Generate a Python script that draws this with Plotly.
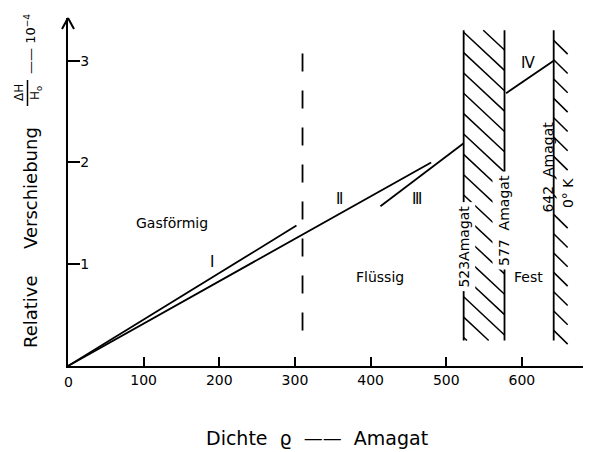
import plotly.graph_objects as go

# ---- data ----
rho_I = [0, 302]
shift_I = [0, 1.38]
rho_II = [0, 480]
shift_II = [0, 2.0]
rho_III = [413, 523]
shift_III = [1.57, 2.19]
rho_IV = [579, 642]
shift_IV = [2.68, 3.0]
phase_bounds = [523, 577, 642]
bound_lo, bound_hi = 0.25, 3.3
rho_crit = 310
crit_lo, crit_hi = 0.35, 3.2
x_ticks = [0, 100, 200, 300, 400, 500, 600]
y_ticks = [1, 2, 3]

# ---- geometry (page body has an 8px margin) ----
OFF = 8
W, H = 591 - OFF, 452 - OFF
ML, MR, MT, MB = 68 - OFF, 1, 18 - OFF, 86
PW, PH = W - ML - MR, H - MT - MB
XR = [0, 690]
YR = [0, 3.42]


def px(x_img):
    return (x_img - OFF - ML) / PW


def py(y_img):
    return (H - MB - (y_img - OFF)) / PH


BLACK = "black"
FONT = "DejaVu Sans"

fig = go.Figure()


def add_line(xs, ys, width=1.8, dash=None):
    fig.add_trace(go.Scatter(x=xs, y=ys, mode="lines",
                             line=dict(color=BLACK, width=width, dash=dash),
                             hoverinfo="skip", showlegend=False))


add_line(rho_I, shift_I)
add_line(rho_II, shift_II)
add_line(rho_III, shift_III)
add_line(rho_IV, shift_IV)
for b in phase_bounds:
    add_line([b, b], [bound_lo, bound_hi], width=1.8)
add_line([rho_crit, rho_crit], [crit_lo, crit_hi], width=1.8, dash="18px,19px")

# hatching between the 523 and 577 boundaries (decorative pattern)
x0h, x1h = phase_bounds[0], phase_bounds[1]
drop = 0.375
step = 0.2
slope = drop / (x1h - x0h)
hx, hy = [], []
y0 = 3.28 + step
while y0 > bound_lo:
    xa, ya = x0h, y0
    xb, yb = x1h, y0 - drop
    if ya > bound_hi:
        xa = x0h + (ya - bound_hi) / slope
        ya = bound_hi
    if yb < bound_lo:
        xb = x0h + (y0 - bound_lo) / slope
        yb = bound_lo
    if xb > xa:
        hx += [xa, xb, None]
        hy += [ya, yb, None]
    y0 -= step
fig.add_trace(go.Scatter(x=hx, y=hy, mode="lines", line=dict(color=BLACK, width=1.5),
                         hoverinfo="skip", showlegend=False))

# short hatch ticks on the right of the 642 boundary
tx, ty = [], []
yt = 3.2
while yt > 0.35:
    tx += [phase_bounds[2], phase_bounds[2] + 18.5, None]
    ty += [yt, yt - 0.135, None]
    yt -= 0.19
fig.add_trace(go.Scatter(x=tx, y=ty, mode="lines", line=dict(color=BLACK, width=1.5),
                         hoverinfo="skip", showlegend=False))


def label(x, y, text, size=14, angle=0, bg=None, family=FONT):
    fig.add_annotation(x=x, y=y, xref="x", yref="y", text=text, showarrow=False,
                       textangle=angle, font=dict(family=family, size=size, color=BLACK),
                       bgcolor=bg if bg else "rgba(0,0,0,0)", borderpad=3,
                       xanchor="center", yanchor="middle")


label(137, 1.41, "Gasförmig")
label(412, 0.87, "Flüssig")
label(609, 0.87, "Fest")
label(190, 1.02, "Ⅰ", size=15)
label(359, 1.64, "Ⅱ", size=15)
label(461, 1.64, "Ⅲ", size=15)
label(608, 2.98, "Ⅳ", size=15)
label(523, 1.17, "523Amagat", angle=-90, bg="white")
label(577, 1.43, "577  Amagat", angle=-90, bg="white")
label(634.5, 1.95, "642  Amagat", angle=-90)
label(661, 1.70, "0° K", angle=-90, bg="white")


def plabel(xp, yp, text, size, angle=0):
    fig.add_annotation(x=px(xp), y=py(yp), xref="paper", yref="paper", text=text,
                       showarrow=False, textangle=angle,
                       font=dict(family=FONT, size=size, color=BLACK),
                       xanchor="center", yanchor="middle")


# origin tick label (hidden by plotly next to the inside y labels)
fig.add_annotation(x=x_ticks[0], y=py(382), xref="x", yref="paper", text=str(x_ticks[0]),
                   showarrow=False, font=dict(family=FONT, size=14, color=BLACK),
                   xanchor="center", yanchor="middle")

# axis titles
plabel(317, 438, "Dichte  ϱ  ——  Amagat", 19)
plabel(30, 312, "Relative", 18, -90)
plabel(30, 188, "Verschiebung", 18, -90)
plabel(19, 93, "ΔH", 12, -90)
plabel(36, 93, "H<sub>o</sub>", 12, -90)
plabel(30, 44, "—— 10<sup>−4</sup>", 13, -90)

shapes = [
    dict(type="line", xref="paper", yref="paper", x0=px(27.5), x1=px(27.5),
         y0=py(80), y1=py(106), line=dict(color=BLACK, width=1.5)),
    dict(type="line", xref="paper", yref="paper", x0=px(68), x1=px(62),
         y0=py(18), y1=py(29), line=dict(color=BLACK, width=2)),
    dict(type="line", xref="paper", yref="paper", x0=px(68), x1=px(74),
         y0=py(18), y1=py(29), line=dict(color=BLACK, width=2)),
]

fig.update_layout(
    width=W, height=H,
    margin=dict(l=ML, r=MR, t=MT, b=MB, autoexpand=False),
    paper_bgcolor="white", plot_bgcolor="white",
    showlegend=False,
    shapes=shapes,
    xaxis=dict(range=XR, showgrid=False, zeroline=False, showline=True,
               linecolor=BLACK, linewidth=2, ticks="inside", ticklen=9, tickwidth=1.5,
               tickcolor=BLACK, tickvals=x_ticks, ticklabeloverflow="allow",
               tickfont=dict(family=FONT, size=14, color=BLACK)),
    yaxis=dict(range=YR, showgrid=False, zeroline=False, showline=True,
               linecolor=BLACK, linewidth=2, ticks="inside", ticklen=12, tickwidth=1.5,
               tickcolor=BLACK, tickvals=y_ticks, ticklabelposition="inside",
               tickfont=dict(family=FONT, size=14, color=BLACK)),
)

fig.write_html("out.html")
